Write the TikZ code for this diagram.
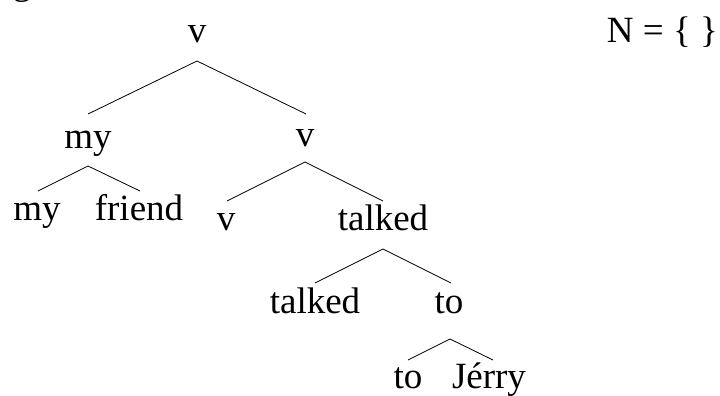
\documentclass[tikz,border=0pt]{standalone}
\usepackage{fontspec}
\setmainfont{Liberation Serif}
\begin{document}
\begin{tikzpicture}[x=1pt,y=-1pt,
  word/.style={inner sep=0pt,anchor=base,font=\fontsize{37}{42}\selectfont},
  branch/.style={line width=0.8pt,black}]
\useasboundingbox (0,0) rectangle (720,396);
\begin{scope}
\clip (0,0) rectangle (720,396);
\node[word] (g) at (22,-5) {g};
\end{scope}
% labels
\node[word] (v0) at (197,43) {v};
\node[word,anchor=base east] (N) at (718,43) {N = \{ \}};
\node[word] (my1) at (88,148) {my};
\node[word] (v1) at (305,146) {v};
\node[word] (my2) at (37,220) {my};
\node[word] (friend) at (139,220) {friend};
\node[word] (v2) at (226,230) {v};
\node[word] (talked1) at (383,230) {talked};
\node[word] (talked2) at (315,313) {talked};
\node[word] (to1) at (449,313) {to};
\node[word] (to2) at (408,388) {to};
\node[word] (jerry) at (489,388) {Jérry};
% branch points
\coordinate (a0) at (197,61);  \coordinate (a0l) at (88,114);  \coordinate (a0r) at (306,114);
\coordinate (a1) at (88,166);  \coordinate (a1l) at (38,191);  \coordinate (a1r) at (140,191);
\coordinate (a2) at (305,162); \coordinate (a2l) at (227,201); \coordinate (a2r) at (383,201);
\coordinate (a3) at (383,249); \coordinate (a3l) at (315,283); \coordinate (a3r) at (451,283);
\coordinate (a4) at (450,339); \coordinate (a4l) at (408,360); \coordinate (a4r) at (493,360);
\draw[branch] (a0l) -- (a0) -- (a0r);
\draw[branch] (a1l) -- (a1) -- (a1r);
\draw[branch] (a2l) -- (a2) -- (a2r);
\draw[branch] (a3l) -- (a3) -- (a3r);
\draw[branch] (a4l) -- (a4) -- (a4r);
\end{tikzpicture}
\end{document}
